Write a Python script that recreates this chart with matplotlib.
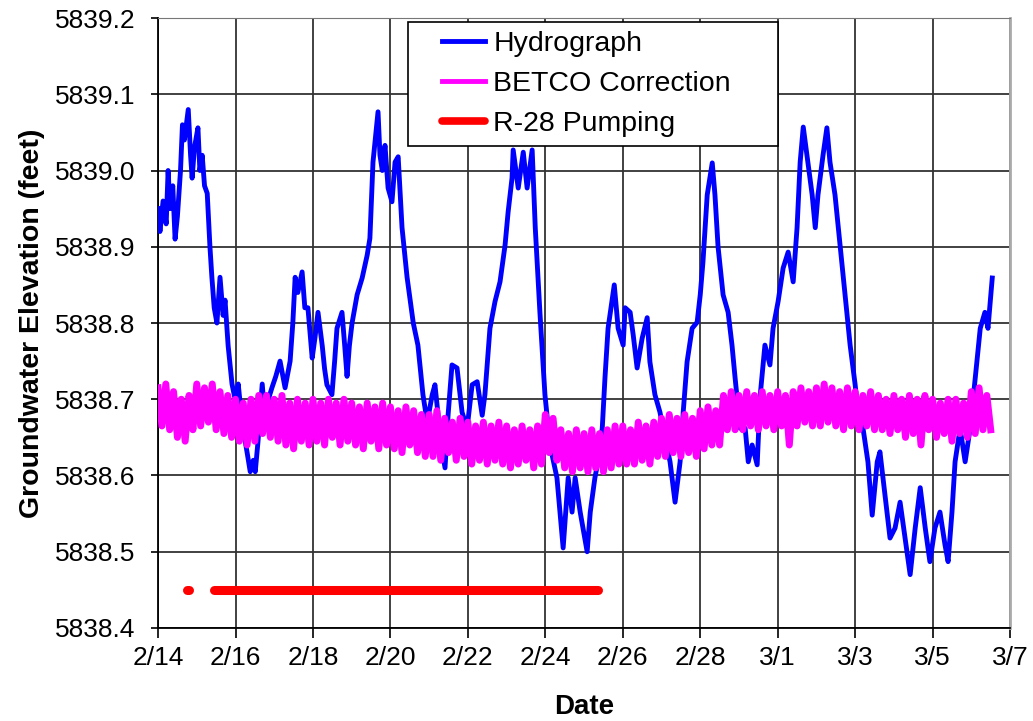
import matplotlib
matplotlib.use('Agg')
import matplotlib.pyplot as plt
from matplotlib.lines import Line2D
from matplotlib.legend_handler import HandlerLine2D
import numpy as np

plt.rcParams['font.family'] = ['Liberation Sans', 'DejaVu Sans']

# days after 2/14/2008 (leap year, so 2/28 -> 3/1 is two days)
hydro_days = [
    0.00, 0.05, 0.13, 0.21, 0.26, 0.31, 0.38, 0.44, 0.50, 0.58,
    0.63, 0.68, 0.78, 0.84, 0.88, 0.94, 1.03, 1.08, 1.14, 1.20,
    1.27, 1.34, 1.39, 1.45, 1.52, 1.60, 1.68, 1.73, 1.81, 1.91,
    1.99, 2.07, 2.13, 2.20, 2.30, 2.38, 2.46, 2.51, 2.58, 2.69,
    2.76, 2.85, 2.94, 3.04, 3.15, 3.28, 3.41, 3.48, 3.54, 3.61,
    3.72, 3.79, 3.87, 3.98, 4.05, 4.13, 4.24, 4.30, 4.36, 4.49,
    4.56, 4.62, 4.75, 4.82, 4.88, 4.94, 5.01, 5.14, 5.27, 5.40,
    5.47, 5.55, 5.68, 5.73, 5.79, 5.86, 5.94, 6.04, 6.12, 6.20,
    6.30, 6.43, 6.59, 6.71, 6.84, 6.95, 7.08, 7.15, 7.23, 7.28,
    7.41, 7.49, 7.59, 7.72, 7.85, 7.98, 8.11, 8.24, 8.37, 8.44,
    8.57, 8.70, 8.83, 8.96, 9.04, 9.14, 9.17, 9.30, 9.43, 9.53,
    9.66, 9.74, 9.86, 9.99, 10.12, 10.30, 10.46, 10.59, 10.69, 10.77,
    10.90, 11.08, 11.16, 11.28, 11.36, 11.47, 11.54, 11.62, 11.72, 11.78,
    11.88, 12.01, 12.06, 12.19, 12.27, 12.37, 12.50, 12.63, 12.70, 12.83,
    12.96, 13.04, 13.22, 13.35, 13.48, 13.56, 13.66, 13.79, 13.92, 14.00,
    14.07, 14.18, 14.31, 14.38, 14.46, 14.59, 14.72, 14.82, 14.90, 15.03,
    15.16, 15.24, 15.34, 15.47, 15.55, 15.67, 15.80, 15.88, 16.01, 16.14,
    16.27, 16.40, 16.50, 16.58, 16.66, 16.78, 16.89, 16.97, 17.04, 17.17,
    17.27, 17.35, 17.48, 17.61, 17.74, 17.87, 18.00, 18.08, 18.18, 18.33,
    18.44, 18.57, 18.64, 18.77, 18.90, 19.03, 19.16, 19.29, 19.42, 19.55,
    19.68, 19.81, 19.93, 20.06, 20.19, 20.32, 20.40, 20.50, 20.58, 20.71,
    20.84, 20.97, 21.10, 21.23, 21.35, 21.43, 21.54]

hydro_elev = [
    5838.95, 5838.92, 5838.96, 5838.93, 5839.00, 5838.95, 5838.98, 5838.91, 5838.94, 5839.00,
    5839.06, 5839.04, 5839.08, 5839.02, 5838.99, 5839.03, 5839.056, 5839.00, 5839.02, 5838.98,
    5838.97, 5838.90, 5838.86, 5838.82, 5838.80, 5838.86, 5838.81, 5838.83, 5838.77, 5838.72,
    5838.70, 5838.72, 5838.69, 5838.66, 5838.63, 5838.605, 5838.62, 5838.605, 5838.644, 5838.72,
    5838.675, 5838.70, 5838.715, 5838.73, 5838.75, 5838.715, 5838.75, 5838.80, 5838.86, 5838.84,
    5838.867, 5838.82, 5838.82, 5838.754, 5838.78, 5838.814, 5838.77, 5838.74, 5838.719, 5838.706,
    5838.75, 5838.793, 5838.814, 5838.77, 5838.73, 5838.77, 5838.80, 5838.837, 5838.859, 5838.889,
    5838.911, 5839.011, 5839.077, 5839.02, 5839.00, 5839.033, 5838.977, 5838.959, 5839.011, 5839.018,
    5838.925, 5838.86, 5838.80, 5838.771, 5838.706, 5838.67, 5838.706, 5838.719, 5838.68, 5838.65,
    5838.61, 5838.68, 5838.745, 5838.741, 5838.683, 5838.662, 5838.719, 5838.723, 5838.679, 5838.706,
    5838.793, 5838.828, 5838.854, 5838.902, 5838.946, 5838.99, 5839.027, 5838.977, 5839.024, 5838.977,
    5839.027, 5838.925, 5838.814, 5838.706, 5838.64, 5838.597, 5838.505, 5838.597, 5838.552, 5838.597,
    5838.552, 5838.50, 5838.552, 5838.597, 5838.618, 5838.662, 5838.728, 5838.793, 5838.828, 5838.85,
    5838.793, 5838.771, 5838.82, 5838.814, 5838.784, 5838.741, 5838.78, 5838.807, 5838.749, 5838.706,
    5838.683, 5838.662, 5838.618, 5838.565, 5838.618, 5838.683, 5838.749, 5838.793, 5838.801, 5838.837,
    5838.88, 5838.968, 5839.01, 5838.968, 5838.90, 5838.837, 5838.814, 5838.771, 5838.728, 5838.662,
    5838.662, 5838.618, 5838.64, 5838.614, 5838.706, 5838.771, 5838.745, 5838.793, 5838.828, 5838.872,
    5838.893, 5838.854, 5838.925, 5839.011, 5839.057, 5839.011, 5838.968, 5838.925, 5838.968, 5839.02,
    5839.056, 5839.011, 5838.968, 5838.902, 5838.837, 5838.771, 5838.719, 5838.679, 5838.67, 5838.618,
    5838.548, 5838.618, 5838.631, 5838.574, 5838.518, 5838.531, 5838.565, 5838.518, 5838.47, 5838.531,
    5838.584, 5838.531, 5838.487, 5838.531, 5838.552, 5838.509, 5838.487, 5838.552, 5838.618, 5838.662,
    5838.618, 5838.662, 5838.728, 5838.793, 5838.814, 5838.793, 5838.859]

# BETCO correction, read every 0.1 day (one row per day)
betco_elev = [
    5838.715, 5838.665, 5838.720, 5838.660, 5838.710, 5838.650, 5838.700, 5838.645, 5838.705, 5838.660,
    5838.720, 5838.665, 5838.715, 5838.670, 5838.720, 5838.660, 5838.710, 5838.655, 5838.705, 5838.650,
    5838.700, 5838.645, 5838.695, 5838.640, 5838.700, 5838.645, 5838.705, 5838.655, 5838.705, 5838.650,
    5838.700, 5838.645, 5838.705, 5838.640, 5838.695, 5838.635, 5838.700, 5838.645, 5838.695, 5838.640,
    5838.700, 5838.645, 5838.695, 5838.640, 5838.700, 5838.650, 5838.695, 5838.640, 5838.700, 5838.645,
    5838.695, 5838.640, 5838.690, 5838.635, 5838.695, 5838.645, 5838.690, 5838.635, 5838.695, 5838.640,
    5838.690, 5838.635, 5838.685, 5838.630, 5838.690, 5838.640, 5838.685, 5838.630, 5838.680, 5838.625,
    5838.680, 5838.625, 5838.685, 5838.620, 5838.675, 5838.630, 5838.670, 5838.620, 5838.675, 5838.625,
    5838.670, 5838.615, 5838.665, 5838.620, 5838.670, 5838.615, 5838.665, 5838.620, 5838.670, 5838.615,
    5838.665, 5838.610, 5838.660, 5838.615, 5838.665, 5838.620, 5838.660, 5838.610, 5838.665, 5838.615,
    5838.680, 5838.630, 5838.675, 5838.620, 5838.660, 5838.610, 5838.655, 5838.605, 5838.660, 5838.610,
    5838.655, 5838.605, 5838.660, 5838.610, 5838.655, 5838.605, 5838.660, 5838.610, 5838.665, 5838.615,
    5838.665, 5838.615, 5838.660, 5838.615, 5838.670, 5838.620, 5838.665, 5838.615, 5838.670, 5838.625,
    5838.675, 5838.625, 5838.680, 5838.630, 5838.675, 5838.625, 5838.680, 5838.630, 5838.675, 5838.625,
    5838.685, 5838.635, 5838.690, 5838.640, 5838.685, 5838.640, 5838.705, 5838.660, 5838.710, 5838.660,
    5838.705, 5838.660, 5838.710, 5838.665, 5838.705, 5838.660, 5838.710, 5838.665, 5838.705, 5838.660,
    5838.710, 5838.665, 5838.705, 5838.640, 5838.710, 5838.665, 5838.715, 5838.670, 5838.710, 5838.665,
    5838.715, 5838.665, 5838.720, 5838.670, 5838.715, 5838.665, 5838.710, 5838.660, 5838.715, 5838.665,
    5838.710, 5838.660, 5838.705, 5838.665, 5838.710, 5838.660, 5838.705, 5838.660, 5838.700, 5838.655,
    5838.705, 5838.660, 5838.700, 5838.650, 5838.705, 5838.655, 5838.700, 5838.640, 5838.705, 5838.660,
    5838.700, 5838.650, 5838.695, 5838.655, 5838.700, 5838.645, 5838.700, 5838.655, 5838.695, 5838.650,
    5838.710, 5838.655, 5838.715, 5838.660, 5838.705, 5838.660]
betco_days = np.arange(len(betco_elev)) * 0.1

# R-28 pumping periods (start, end in days) and the level it is drawn at
pump_start = [0.75, 1.45]
pump_end = [0.80, 11.36]
pump_level = 5838.45

x_ticks = list(range(0, 23, 2))
x_labels = ['2/14', '2/16', '2/18', '2/20', '2/22', '2/24', '2/26', '2/28',
            '3/1', '3/3', '3/5', '3/7']
y_ticks = [5838.4, 5838.5, 5838.6, 5838.7, 5838.8, 5838.9, 5839.0, 5839.1, 5839.2]

fig = plt.figure(figsize=(10.33, 7.21), dpi=100)
ax = fig.add_axes([0.153, 0.129, 0.8248, 0.846])

ax.plot(hydro_days, hydro_elev, color='#0000FF', lw=3.5, solid_joinstyle='round',
        label='Hydrograph', zorder=3)
ax.plot(betco_days, betco_elev, color='#FF00FF', lw=5.0, solid_joinstyle='round',
        label='BETCO Correction', zorder=4)

px, py = [], []
for s, e in zip(pump_start, pump_end):
    px += [s, e, np.nan]
    py += [pump_level, pump_level, np.nan]
ax.plot(px, py, color='#FF0000', lw=6.5, solid_capstyle='round',
        label='R-28 Pumping', zorder=5)

ax.set_xlim(0, 22)
ax.set_ylim(5838.4, 5839.2)
ax.set_xticks(x_ticks)
ax.set_xticklabels(x_labels)
ax.set_yticks(y_ticks)
ax.set_yticklabels(['%.1f' % v for v in y_ticks])
ax.tick_params(axis='both', direction='out', labelsize=19, color='black', width=1.2)
ax.tick_params(axis='y', length=5, pad=11)
ax.tick_params(axis='x', length=7, pad=6)

ax.grid(True, color='#333333', lw=1.3)
ax.set_axisbelow(True)
ax.spines['left'].set_color('black')
ax.spines['bottom'].set_color('black')
ax.spines['left'].set_linewidth(1.3)
ax.spines['bottom'].set_linewidth(1.3)
ax.spines['top'].set_color('#777777')
ax.spines['right'].set_color('#aaaaaa')
ax.spines['right'].set_linewidth(2)

ax.set_xlabel('Date', fontsize=20, fontweight='bold', labelpad=17)
ax.set_ylabel('Groundwater Elevation (feet)', fontsize=20.5, fontweight='bold', labelpad=7)

leg = ax.legend(loc='upper left', bbox_to_anchor=(0.2934, 0.7885, 0.4343, 0.205),
                mode='expand', borderaxespad=0, fontsize=20.5, frameon=True,
                fancybox=False, edgecolor='black', framealpha=1,
                handlelength=2.39, handletextpad=0.3, labelspacing=0.5, borderpad=0.3,
                handler_map={Line2D: HandlerLine2D(xpad=0.88)})
leg.get_frame().set_linewidth(1.2)
for h in leg.get_lines():
    h.set_linewidth(3.5)
leg.get_lines()[2].set_linewidth(5.5)
leg.set_zorder(10)

fig.savefig('out.png', dpi=100)
